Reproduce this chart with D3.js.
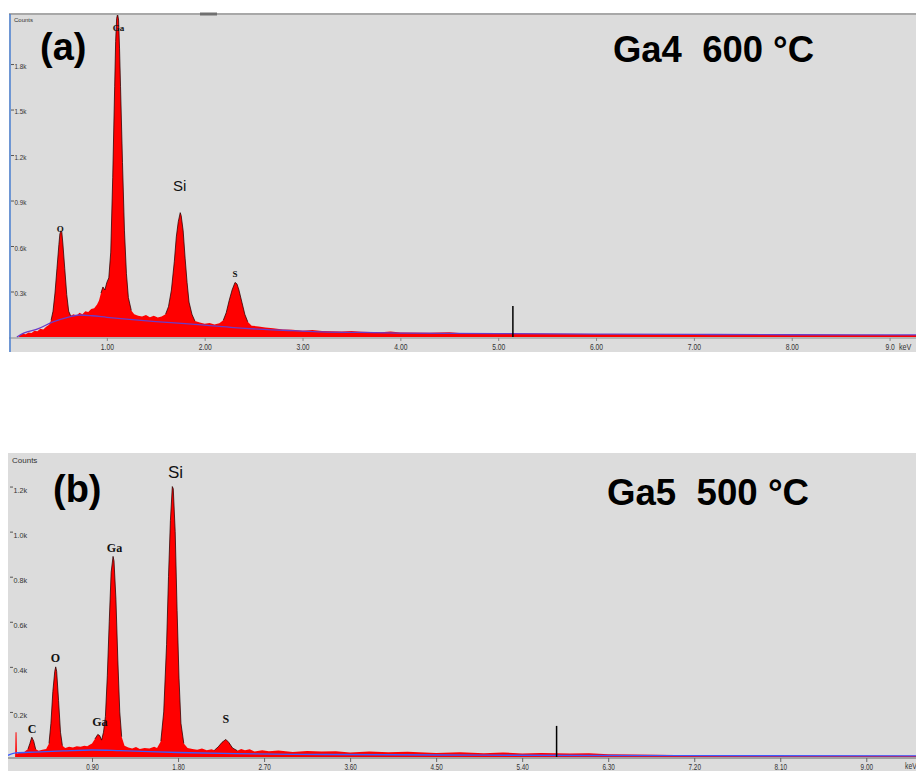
<!DOCTYPE html>
<html><head><meta charset="utf-8">
<script src="https://cdn.jsdelivr.net/npm/d3@7"></script>
<style>
body{margin:0;background:#fff;}
svg{display:block;font-family:"Liberation Sans",Arial,sans-serif;}
</style>
</head><body>
<svg id="c" width="916" height="771"></svg>
<script>
// ---------- DATA (keV, counts) ----------
const specA = [
[0.00,0],[0.10,0],[0.11,12],[0.14,22],[0.17,18],[0.20,30],[0.23,26],[0.26,42],[0.29,38],[0.32,55],[0.35,50],[0.38,68],[0.41,80],[0.43,110],[0.45,170],[0.47,290],[0.49,450],[0.51,610],[0.52,680],[0.53,700],[0.54,690],[0.55,620],[0.57,450],[0.59,280],[0.61,170],[0.63,140],[0.66,150],[0.69,140],[0.72,160],[0.75,150],[0.78,170],[0.81,165],[0.84,185],[0.87,190],[0.90,215],[0.92,240],[0.94,290],[0.96,330],[0.98,310],[1.00,360],[1.02,390],[1.04,560],[1.06,1050],[1.08,1650],[1.09,1950],[1.10,2100],[1.11,2130],[1.12,2090],[1.13,1900],[1.14,1650],[1.16,1150],[1.18,700],[1.20,420],[1.22,260],[1.25,175],[1.28,150],[1.32,140],[1.36,135],[1.40,145],[1.44,130],[1.48,140],[1.52,128],[1.56,135],[1.60,150],[1.63,200],[1.66,310],[1.69,500],[1.71,660],[1.73,760],[1.75,820],[1.76,800],[1.78,700],[1.80,520],[1.82,360],[1.84,230],[1.87,150],[1.90,105],[1.95,95],[2.00,88],[2.05,92],[2.10,82],[2.15,90],[2.19,110],[2.22,160],[2.25,240],[2.28,310],[2.31,360],[2.33,350],[2.35,310],[2.38,230],[2.41,150],[2.44,100],[2.48,75],[2.55,70],[2.62,62],[2.70,58],[2.80,50],[2.90,48],[3.00,42],[3.10,46],[3.20,40],[3.30,38],[3.40,36],[3.50,40],[3.60,34],[3.80,32],[3.90,36],[4.00,30],[4.30,28],[4.50,32],[4.60,26],[5.00,24],[5.50,22],[6.00,20],[6.50,18],[7.00,17],[7.50,16],[8.00,15],[8.50,15],[9.00,14],[9.30,14]
];
const bgA = [[0.08,0],[0.15,25],[0.30,55],[0.45,100],[0.60,130],[0.72,145],[0.85,140],[1.00,130],[1.20,118],[1.50,102],[1.80,88],[2.00,78],[2.30,62],[2.60,50],[2.90,42],[3.20,34],[3.60,30],[4.00,26],[5.00,22],[6.00,19],[7.00,17],[8.00,15],[9.30,14]];
const specB = [
[0.00,0],[0.095,0],[0.10,110],[0.11,110],[0.115,15],[0.15,20],[0.18,18],[0.20,25],[0.23,35],[0.25,60],[0.27,88],[0.29,70],[0.31,35],[0.34,28],[0.38,32],[0.42,36],[0.45,60],[0.47,150],[0.49,290],[0.51,380],[0.52,400],[0.53,380],[0.55,250],[0.57,110],[0.59,50],[0.62,40],[0.66,45],[0.70,42],[0.74,48],[0.78,45],[0.82,50],[0.85,48],[0.88,55],[0.90,60],[0.93,80],[0.96,100],[0.98,95],[1.00,75],[1.02,110],[1.04,180],[1.06,360],[1.08,600],[1.10,820],[1.12,890],[1.13,870],[1.15,700],[1.17,430],[1.19,200],[1.21,90],[1.24,50],[1.28,42],[1.32,38],[1.36,44],[1.40,35],[1.45,40],[1.50,38],[1.55,45],[1.58,40],[1.62,70],[1.65,200],[1.68,500],[1.70,800],[1.72,1050],[1.74,1200],[1.75,1190],[1.77,1000],[1.79,650],[1.81,350],[1.83,150],[1.86,60],[1.90,40],[1.95,36],[2.00,32],[2.05,38],[2.10,30],[2.15,34],[2.18,30],[2.22,45],[2.26,65],[2.30,78],[2.33,65],[2.37,40],[2.42,28],[2.46,36],[2.50,30],[2.55,34],[2.60,24],[2.68,30],[2.75,26],[2.85,29],[3.00,22],[3.15,27],[3.30,24],[3.45,26],[3.60,20],[3.80,24],[4.00,21],[4.20,23],[4.50,18],[4.75,21],[5.00,17],[5.20,20],[5.40,16],[5.60,18],[5.90,15],[6.10,17],[6.30,12],[6.80,10],[7.20,8],[8.10,6],[9.00,5],[9.55,5]
];
const bgB = [[0.00,4],[0.10,18],[0.30,22],[0.60,27],[0.90,31],[1.20,28],[1.80,20],[2.40,15],[3.00,12],[4.00,10],[5.00,8],[7.00,6],[9.55,5]];
const markerA = [5.15, 205];
const markerB = [5.76, 138];
const yTicksA = [300,600,900,1200,1500,1800];
const yLabelsA = ["0.3k","0.6k","0.9k","1.2k","1.5k","1.8k"];
const xTicksA = [1,2,3,4,5,6,7,8,9];
const xLabelsA = ["1.00","2.00","3.00","4.00","5.00","6.00","7.00","8.00","9.0"];
const yTicksB = [200,400,600,800,1000,1200];
const yLabelsB = ["0.2k","0.4k","0.6k","0.8k","1.0k","1.2k"];
const xTicksB = [0.9,1.8,2.7,3.6,4.5,5.4,6.3,7.2,8.1,9.0];
const xLabelsB = ["0.90","1.80","2.70","3.60","4.50","5.40","6.30","7.20","8.10","9.00"];
const peakLabelsA = [["O",0.525,695],["Ga",1.12,2020],["S",2.31,396]];
const siLabelA = ["Si",1.745,960];
const peakLabelsB = [["C",0.272,107],["O",0.518,422],["Ga",0.983,138],["Ga",1.135,911],["S",2.30,151]];
const siLabelB = ["Si",1.773,1240];
const peakWinA = [[0.43,0.63],[0.94,1.25],[1.60,1.90],[2.19,2.46]];
const peakWinB = [[0.22,0.33],[0.43,0.61],[0.92,1.23],[1.60,1.88],[2.18,2.42]];

// ---------- DRAW ----------
const svg = d3.select("#c");
const GRAY = "#dcdcdc";

function panel(o){
  const g = svg.append("g");
  g.append("rect").attr("x",o.bx0).attr("y",o.by0).attr("width",o.bx1-o.bx0).attr("height",o.by1-o.by0).attr("fill",GRAY);
  const x = d3.scaleLinear().domain(o.xd).range([o.x0,o.x1]);
  const y = d3.scaleLinear().domain(o.yd).range([o.y0,o.y1]);
  const clip = "clip"+o.id;
  g.append("clipPath").attr("id",clip).append("rect").attr("x",o.bx0).attr("y",o.by0).attr("width",o.bx1-o.bx0).attr("height",o.y0-o.by0+1);
  const pg = g.append("g").attr("clip-path",`url(#${clip})`);
  pg.append("path").datum(o.spec)
    .attr("d",d3.area().x(d=>x(d[0])).y0(y(0)).y1(d=>y(d[1])))
    .attr("fill","#ff0000");
  o.win.forEach(w=>{
    pg.append("path").datum(o.spec.filter(d=>d[0]>=w[0]&&d[0]<=w[1]))
      .attr("d",d3.line().x(d=>x(d[0])).y(d=>y(d[1])))
      .attr("fill","none").attr("stroke","#2a0000").attr("stroke-width",0.9).attr("stroke-opacity",0.85);
  });
  pg.append("path").datum(o.bg)
    .attr("d",d3.line().x(d=>x(d[0])).y(d=>y(d[1])).curve(d3.curveMonotoneX))
    .attr("fill","none").attr("stroke",o.bgColor).attr("stroke-width",1.3);
  // marker
  g.append("line").attr("x1",x(o.marker[0])).attr("x2",x(o.marker[0]))
    .attr("y1",y(0)).attr("y2",y(o.marker[1])).attr("stroke","#000").attr("stroke-width",1.5);
  // x axis
  const xa = g.append("g").attr("transform",`translate(0,${o.y0+1})`)
    .call(d3.axisBottom(x).tickValues(o.xt).tickFormat((d,i)=>o.xl[i]).tickSize(o.xts).tickPadding(o.xtp).tickSizeOuter(0));
  xa.select(".domain").attr("stroke",o.axisColor).attr("stroke-width",1.2)
    .attr("d",`M${o.bx0},0H${o.bx1}`);
  xa.selectAll(".tick line").attr("stroke",o.axisColor);
  xa.selectAll(".tick text").attr("font-size",o.xfs).attr("fill","#333")
    .attr("transform","scale(0.75,1)").attr("x",0);
  g.append("text").attr("x",o.kevX).attr("y",o.kevY).attr("font-size",o.xfs).attr("fill","#333")
    .attr("transform",`translate(${o.kevX},0) scale(0.8,1) translate(${-o.kevX},0)`).text("keV");
  // y axis
  const ya = g.append("g").attr("transform",`translate(${o.yax},0)`)
    .call(d3.axisRight(y).tickValues(o.yt).tickFormat((d,i)=>o.yl[i]).tickSize(3).tickPadding(1).tickSizeOuter(0));
  ya.select(".domain").remove();
  ya.selectAll(".tick line").attr("stroke","#555");
  ya.selectAll(".tick text").attr("font-size",o.yfs).attr("fill","#333").attr("dy",o.ydy)
    .attr("transform","scale(0.9,1)");
  g.append("text").attr("x",o.cx).attr("y",o.cy).attr("font-size",o.cfs).attr("fill","#333").text("Counts");
  // peak labels
  o.pl.forEach(p=>{
    g.append("text").attr("x",x(p[1])).attr("y",y(p[2])).attr("text-anchor","middle")
      .attr("font-family","'Liberation Serif','Times New Roman',serif").attr("font-weight","bold")
      .attr("font-size",o.plfs).attr("fill","#111").text(p[0]);
  });
  g.append("text").attr("x",x(o.si[1])).attr("y",y(o.si[2])).attr("text-anchor","middle")
    .attr("font-size",o.sifs).attr("fill","#111").text(o.si[0]);
  // panel letter & title
  g.append("text").attr("x",o.lx).attr("y",o.ly).attr("font-size",38).attr("font-weight","bold").attr("fill","#000").text(o.letter);
  g.append("text").attr("x",o.tx).attr("y",o.ty).attr("font-size",37).attr("font-weight","bold").attr("fill","#000")
    .attr("textLength",o.tl).attr("lengthAdjust","spacingAndGlyphs").style("white-space","pre").text(o.title);
  return {x,y,g};
}

const A = panel({id:"a",bx0:9,bx1:916,by0:14,by1:352,xd:[0,9.27],x0:9,x1:916,yd:[0,2130],y0:337,y1:14,
  spec:specA,bg:bgA,bgColor:"#6a3cc8",win:peakWinA,marker:markerA,xt:xTicksA,xl:xLabelsA,xts:3,xtp:3,xfs:9,
  axisColor:"#8a8a8a",kevX:899,kevY:350,yt:yTicksA,yl:yLabelsA,yax:11,yfs:7,ydy:"0.6em",cx:14,cy:22,cfs:6,
  pl:peakLabelsA,plfs:9,si:siLabelA,sifs:15,letter:"(a)",lx:40,ly:60,title:"Ga4  600 °C",tx:613,ty:62,tl:201});
A.g.append("line").attr("x1",9).attr("x2",916).attr("y1",14).attr("y2",14).attr("stroke","#a8a8a8").attr("stroke-width",2);
A.g.append("line").attr("x1",200).attr("x2",217).attr("y1",14).attr("y2",14).attr("stroke","#707070").attr("stroke-width",3);
A.g.append("line").attr("x1",10).attr("x2",10).attr("y1",14).attr("y2",352).attr("stroke","#4a7fd0").attr("stroke-width",1.5);

const B = panel({id:"b",bx0:8,bx1:916,by0:453,by1:771,xd:[0,9.52],x0:6,x1:916,yd:[0,1340],y0:757,y1:455,
  spec:specB,bg:bgB,bgColor:"#3c5cff",win:peakWinB,marker:markerB,xt:xTicksB,xl:xLabelsB,xts:4,xtp:1.5,xfs:8.5,
  axisColor:"#666",kevX:905,kevY:769,yt:yTicksB,yl:yLabelsB,yax:10,yfs:8,ydy:"0.7em",cx:12,cy:463,cfs:8,
  pl:peakLabelsB,plfs:12,si:siLabelB,sifs:17,letter:"(b)",lx:53,ly:502,title:"Ga5  500 °C",tx:607,ty:505,tl:202});
</script>
</body></html>
